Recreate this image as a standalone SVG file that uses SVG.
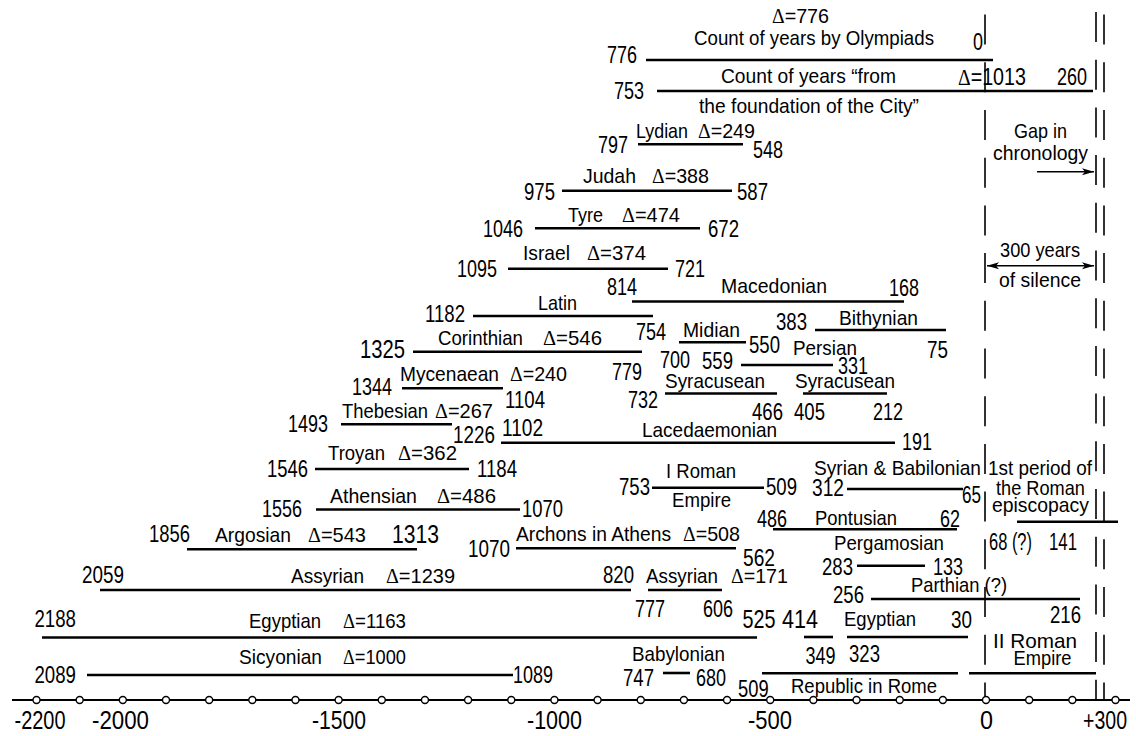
<svg xmlns="http://www.w3.org/2000/svg" width="1136" height="736" viewBox="0 0 1136 736">
<style>
text{font-family:'Liberation Sans',Arial,sans-serif;fill:#000}
.t{font-size:21px}
.n{font-size:23px}
.b{font-size:25px}
.ax{font-size:25px}
.d{font-family:'Liberation Serif','Times New Roman',serif}
.p{stroke:#000;stroke-width:2.6;fill:none}
.dash{stroke:#000;stroke-width:1.6;stroke-dasharray:30 17.7;fill:none}
.arr{stroke:#000;stroke-width:1.5;fill:none}
.c{fill:#fff;stroke:#000;stroke-width:1.4}
.axl{stroke:#000;stroke-width:2}
</style>
<defs>
<marker id="ah" markerUnits="userSpaceOnUse" markerWidth="14" markerHeight="8" refX="12" refY="4" orient="auto-start-reverse">
<path d="M0,0.5 L12,4 L0,7.5 L3,4 z" fill="#000"/>
</marker>
</defs>

<g id="dashed-lines">
<line class="dash" x1="985" y1="14.6" x2="985" y2="700"/>
<line class="dash" x1="1096" y1="12" x2="1096" y2="700"/>
<line class="dash" x1="1104" y1="14.6" x2="1104" y2="700"/>
</g>

<g id="olympiads">
<text class="t" x="772" y="23" textLength="57" lengthAdjust="spacingAndGlyphs"><tspan class="d">Δ</tspan>=776</text>
<text class="t" x="694" y="45" textLength="240" lengthAdjust="spacingAndGlyphs">Count of years by Olympiads</text>
<text class="n" x="973" y="50" textLength="10" lengthAdjust="spacingAndGlyphs">0</text>
<text class="n" x="607" y="63" textLength="30" lengthAdjust="spacingAndGlyphs">776</text>
<line class="p" x1="646" y1="60" x2="993" y2="60"/>
</g>

<g id="rome-foundation">
<text class="t" x="721" y="83" textLength="175" lengthAdjust="spacingAndGlyphs">Count of years “from</text>
<text class="n" x="958" y="85" textLength="68" lengthAdjust="spacingAndGlyphs"><tspan class="d">Δ</tspan>=1013</text>
<text class="n" x="1057" y="85" textLength="30" lengthAdjust="spacingAndGlyphs">260</text>
<text class="n" x="614" y="99" textLength="30" lengthAdjust="spacingAndGlyphs">753</text>
<line class="p" x1="657" y1="91" x2="1093" y2="91"/>
<text class="t" x="699" y="113" textLength="220" lengthAdjust="spacingAndGlyphs">the foundation of the City”</text>
</g>

<g id="gap-note">
<text class="t" x="1014" y="138" textLength="53" lengthAdjust="spacingAndGlyphs">Gap in</text>
<text class="t" x="993" y="160" textLength="95" lengthAdjust="spacingAndGlyphs">chronology</text>
</g>
<g id="silence-note">
<text class="t" x="1000" y="257" textLength="80" lengthAdjust="spacingAndGlyphs">300 years</text>
<text class="t" x="999" y="287" textLength="82" lengthAdjust="spacingAndGlyphs">of silence</text>
</g>

<g id="lydian">
<text class="t" x="636" y="138" textLength="52" lengthAdjust="spacingAndGlyphs">Lydian</text>
<text class="t" x="698" y="138" textLength="57" lengthAdjust="spacingAndGlyphs"><tspan class="d">Δ</tspan>=249</text>
<text class="n" x="598" y="153" textLength="30" lengthAdjust="spacingAndGlyphs">797</text>
<line class="p" x1="638" y1="144.3" x2="743" y2="144.3"/>
<text class="n" x="753" y="158" textLength="30" lengthAdjust="spacingAndGlyphs">548</text>
</g>

<g id="judah">
<text class="t" x="583" y="183" textLength="53" lengthAdjust="spacingAndGlyphs">Judah</text>
<text class="t" x="652" y="183" textLength="57" lengthAdjust="spacingAndGlyphs"><tspan class="d">Δ</tspan>=388</text>
<text class="n" x="524" y="200" textLength="31" lengthAdjust="spacingAndGlyphs">975</text>
<line class="p" x1="562" y1="190.7" x2="732" y2="190.7"/>
<text class="n" x="737" y="200" textLength="31" lengthAdjust="spacingAndGlyphs">587</text>
</g>

<g id="tyre">
<text class="t" x="568" y="222" textLength="35" lengthAdjust="spacingAndGlyphs">Tyre</text>
<text class="t" x="622" y="222" textLength="58" lengthAdjust="spacingAndGlyphs"><tspan class="d">Δ</tspan>=474</text>
<text class="n" x="483" y="237" textLength="40" lengthAdjust="spacingAndGlyphs">1046</text>
<line class="p" x1="535" y1="228.3" x2="700" y2="228.3"/>
<text class="n" x="708" y="237" textLength="31" lengthAdjust="spacingAndGlyphs">672</text>
</g>

<g id="israel">
<text class="t" x="523" y="260" textLength="47" lengthAdjust="spacingAndGlyphs">Israel</text>
<text class="t" x="587" y="260" textLength="59" lengthAdjust="spacingAndGlyphs"><tspan class="d">Δ</tspan>=374</text>
<text class="n" x="457" y="277" textLength="40" lengthAdjust="spacingAndGlyphs">1095</text>
<line class="p" x1="508" y1="268.7" x2="668" y2="268.7"/>
<text class="n" x="675" y="277" textLength="30" lengthAdjust="spacingAndGlyphs">721</text>
</g>

<g id="macedonian">
<text class="n" x="607" y="295" textLength="30" lengthAdjust="spacingAndGlyphs">814</text>
<text class="t" x="721" y="293" textLength="106" lengthAdjust="spacingAndGlyphs">Macedonian</text>
<text class="n" x="889" y="296" textLength="30" lengthAdjust="spacingAndGlyphs">168</text>
<line class="p" x1="632" y1="301.5" x2="904" y2="301.5"/>
</g>

<g id="latin">
<text class="t" x="538" y="310" textLength="39" lengthAdjust="spacingAndGlyphs">Latin</text>
<text class="n" x="425" y="322" textLength="40" lengthAdjust="spacingAndGlyphs">1182</text>
<line class="p" x1="473" y1="316" x2="653" y2="316"/>
<text class="n" x="636" y="340" textLength="30" lengthAdjust="spacingAndGlyphs">754</text>
</g>

<g id="bithynian">
<text class="n" x="776" y="330" textLength="31" lengthAdjust="spacingAndGlyphs">383</text>
<text class="t" x="839" y="325" textLength="79" lengthAdjust="spacingAndGlyphs">Bithynian</text>
<line class="p" x1="815" y1="330" x2="946" y2="330"/>
<text class="n" x="927" y="358" textLength="21" lengthAdjust="spacingAndGlyphs">75</text>
</g>

<g id="corinthian">
<text class="t" x="438" y="345" textLength="85" lengthAdjust="spacingAndGlyphs">Corinthian</text>
<text class="t" x="543" y="345" textLength="59" lengthAdjust="spacingAndGlyphs"><tspan class="d">Δ</tspan>=546</text>
<text class="b" x="360" y="358" textLength="45" lengthAdjust="spacingAndGlyphs">1325</text>
<line class="p" x1="413" y1="351.7" x2="642" y2="351.7"/>
<text class="n" x="612" y="380" textLength="30" lengthAdjust="spacingAndGlyphs">779</text>
</g>

<g id="midian">
<text class="t" x="683" y="337" textLength="57" lengthAdjust="spacingAndGlyphs">Midian</text>
<line class="p" x1="679" y1="342.3" x2="746" y2="342.3"/>
<text class="n" x="749" y="353" textLength="31" lengthAdjust="spacingAndGlyphs">550</text>
<text class="n" x="660" y="368" textLength="30" lengthAdjust="spacingAndGlyphs">700</text>
</g>

<g id="persian">
<text class="n" x="702" y="369" textLength="31" lengthAdjust="spacingAndGlyphs">559</text>
<text class="t" x="793" y="355" textLength="64" lengthAdjust="spacingAndGlyphs">Persian</text>
<line class="p" x1="741" y1="365" x2="833" y2="365"/>
<text class="n" x="838" y="374" textLength="30" lengthAdjust="spacingAndGlyphs">331</text>
</g>

<g id="mycenaean">
<text class="t" x="400" y="381" textLength="99" lengthAdjust="spacingAndGlyphs">Mycenaean</text>
<text class="t" x="510" y="381" textLength="57" lengthAdjust="spacingAndGlyphs"><tspan class="d">Δ</tspan>=240</text>
<text class="n" x="352" y="395" textLength="40" lengthAdjust="spacingAndGlyphs">1344</text>
<line class="p" x1="402" y1="388.3" x2="503" y2="388.3"/>
<text class="n" x="505" y="408" textLength="40" lengthAdjust="spacingAndGlyphs">1104</text>
</g>

<g id="syracusean-1">
<text class="t" x="665" y="388" textLength="100" lengthAdjust="spacingAndGlyphs">Syracusean</text>
<text class="n" x="628" y="408" textLength="30" lengthAdjust="spacingAndGlyphs">732</text>
<line class="p" x1="665" y1="393.5" x2="777" y2="393.5"/>
<text class="n" x="752" y="420" textLength="31" lengthAdjust="spacingAndGlyphs">466</text>
</g>

<g id="syracusean-2">
<text class="t" x="795" y="388" textLength="100" lengthAdjust="spacingAndGlyphs">Syracusean</text>
<line class="p" x1="803" y1="393.5" x2="887" y2="393.5"/>
<text class="n" x="794" y="420" textLength="31" lengthAdjust="spacingAndGlyphs">405</text>
<text class="n" x="873" y="420" textLength="30" lengthAdjust="spacingAndGlyphs">212</text>
</g>

<g id="thebesian">
<text class="t" x="342" y="418" textLength="86" lengthAdjust="spacingAndGlyphs">Thebesian</text>
<text class="t" x="435" y="418" textLength="58" lengthAdjust="spacingAndGlyphs"><tspan class="d">Δ</tspan>=267</text>
<text class="n" x="288" y="432" textLength="40" lengthAdjust="spacingAndGlyphs">1493</text>
<line class="p" x1="341" y1="424.3" x2="452" y2="424.3"/>
<text class="n" x="453" y="443" textLength="42" lengthAdjust="spacingAndGlyphs">1226</text>
</g>

<g id="lacedaemonian">
<text class="n" x="502" y="436" textLength="41" lengthAdjust="spacingAndGlyphs">1102</text>
<text class="t" x="642" y="437" textLength="135" lengthAdjust="spacingAndGlyphs">Lacedaemonian</text>
<line class="p" x1="501" y1="442.7" x2="895" y2="442.7"/>
<text class="n" x="902" y="450" textLength="30" lengthAdjust="spacingAndGlyphs">191</text>
</g>

<g id="troyan">
<text class="t" x="328" y="460" textLength="57" lengthAdjust="spacingAndGlyphs">Troyan</text>
<text class="t" x="398" y="460" textLength="59" lengthAdjust="spacingAndGlyphs"><tspan class="d">Δ</tspan>=362</text>
<text class="n" x="267" y="477" textLength="41" lengthAdjust="spacingAndGlyphs">1546</text>
<line class="p" x1="315" y1="469" x2="469" y2="469"/>
<text class="n" x="477" y="477" textLength="40" lengthAdjust="spacingAndGlyphs">1184</text>
</g>

<g id="roman-empire-1">
<text class="t" x="666" y="478" textLength="70" lengthAdjust="spacingAndGlyphs">I Roman</text>
<text class="n" x="619" y="495" textLength="31" lengthAdjust="spacingAndGlyphs">753</text>
<line class="p" x1="652" y1="487.7" x2="764" y2="487.7"/>
<text class="n" x="766" y="495" textLength="31" lengthAdjust="spacingAndGlyphs">509</text>
<text class="t" x="672" y="507" textLength="59" lengthAdjust="spacingAndGlyphs">Empire</text>
</g>

<g id="syrian-babilonian">
<text class="t" x="814" y="475" textLength="167" lengthAdjust="spacingAndGlyphs">Syrian &amp; Babilonian</text>
<text class="n" x="812" y="496" textLength="32" lengthAdjust="spacingAndGlyphs">312</text>
<line class="p" x1="847" y1="489" x2="963" y2="489"/>
<text class="n" x="962" y="503" textLength="19" lengthAdjust="spacingAndGlyphs">65</text>
</g>

<g id="episcopacy">
<text class="t" x="988" y="475" textLength="104" lengthAdjust="spacingAndGlyphs">1st period of</text>
<text class="t" x="996" y="495" textLength="89" lengthAdjust="spacingAndGlyphs">the Roman</text>
<text class="t" x="992" y="512" textLength="97" lengthAdjust="spacingAndGlyphs">episcopacy</text>
<line class="p" x1="1017" y1="521.7" x2="1118" y2="521.7"/>
<text class="n" x="989" y="550" textLength="43" lengthAdjust="spacingAndGlyphs">68 (?)</text>
<text class="n" x="1049" y="550" textLength="28" lengthAdjust="spacingAndGlyphs">141</text>
</g>

<g id="athensian">
<text class="t" x="330" y="503" textLength="87" lengthAdjust="spacingAndGlyphs">Athensian</text>
<text class="t" x="437" y="503" textLength="59" lengthAdjust="spacingAndGlyphs"><tspan class="d">Δ</tspan>=486</text>
<text class="n" x="262" y="517" textLength="40" lengthAdjust="spacingAndGlyphs">1556</text>
<line class="p" x1="316" y1="509.5" x2="520" y2="509.5"/>
<text class="n" x="522" y="517" textLength="41" lengthAdjust="spacingAndGlyphs">1070</text>
</g>

<g id="pontusian">
<text class="n" x="757" y="527" textLength="30" lengthAdjust="spacingAndGlyphs">486</text>
<text class="t" x="815" y="525" textLength="82" lengthAdjust="spacingAndGlyphs">Pontusian</text>
<text class="n" x="940" y="527" textLength="20" lengthAdjust="spacingAndGlyphs">62</text>
<line class="p" x1="773" y1="529.3" x2="957" y2="529.3"/>
</g>

<g id="argosian">
<text class="n" x="149" y="542" textLength="41" lengthAdjust="spacingAndGlyphs">1856</text>
<text class="t" x="215" y="542" textLength="76" lengthAdjust="spacingAndGlyphs">Argosian</text>
<text class="t" x="308" y="542" textLength="58" lengthAdjust="spacingAndGlyphs"><tspan class="d">Δ</tspan>=543</text>
<text class="b" x="392" y="543" textLength="47" lengthAdjust="spacingAndGlyphs">1313</text>
<line class="p" x1="187" y1="549.3" x2="417" y2="549.3"/>
</g>

<g id="archons">
<text class="n" x="468" y="557" textLength="42" lengthAdjust="spacingAndGlyphs">1070</text>
<text class="t" x="516" y="541" textLength="155" lengthAdjust="spacingAndGlyphs">Archons in Athens</text>
<text class="t" x="683" y="541" textLength="57" lengthAdjust="spacingAndGlyphs"><tspan class="d">Δ</tspan>=508</text>
<line class="p" x1="516" y1="548.3" x2="736" y2="548.3"/>
<text class="n" x="743" y="566" textLength="32" lengthAdjust="spacingAndGlyphs">562</text>
</g>

<g id="pergamosian">
<text class="t" x="834" y="550" textLength="110" lengthAdjust="spacingAndGlyphs">Pergamosian</text>
<text class="n" x="822" y="575" textLength="31" lengthAdjust="spacingAndGlyphs">283</text>
<line class="p" x1="857" y1="565.7" x2="925" y2="565.7"/>
<text class="n" x="933" y="575" textLength="30" lengthAdjust="spacingAndGlyphs">133</text>
</g>

<g id="assyrian-1">
<text class="n" x="82" y="583" textLength="42" lengthAdjust="spacingAndGlyphs">2059</text>
<text class="t" x="291" y="583" textLength="73" lengthAdjust="spacingAndGlyphs">Assyrian</text>
<text class="t" x="386" y="583" textLength="69" lengthAdjust="spacingAndGlyphs"><tspan class="d">Δ</tspan>=1239</text>
<line class="p" x1="100" y1="590" x2="631" y2="590"/>
<text class="n" x="603" y="583" textLength="31" lengthAdjust="spacingAndGlyphs">820</text>
</g>

<g id="assyrian-2">
<text class="t" x="646" y="583" textLength="72" lengthAdjust="spacingAndGlyphs">Assyrian</text>
<text class="t" x="731" y="583" textLength="57" lengthAdjust="spacingAndGlyphs"><tspan class="d">Δ</tspan>=171</text>
<line class="p" x1="648" y1="590" x2="722" y2="590"/>
<text class="n" x="635" y="617" textLength="30" lengthAdjust="spacingAndGlyphs">777</text>
<text class="n" x="703" y="617" textLength="30" lengthAdjust="spacingAndGlyphs">606</text>
</g>

<g id="parthian">
<text class="t" x="911" y="592" textLength="96" lengthAdjust="spacingAndGlyphs">Parthian (?)</text>
<text class="n" x="833" y="603" textLength="31" lengthAdjust="spacingAndGlyphs">256</text>
<line class="p" x1="871" y1="599" x2="1080" y2="599"/>
<text class="n" x="1050" y="623" textLength="31" lengthAdjust="spacingAndGlyphs">216</text>
</g>

<g id="egyptian-1">
<text class="n" x="34.5" y="627" textLength="41.5" lengthAdjust="spacingAndGlyphs">2188</text>
<text class="t" x="249" y="628" textLength="72" lengthAdjust="spacingAndGlyphs">Egyptian</text>
<text class="t" x="343" y="628" textLength="63" lengthAdjust="spacingAndGlyphs"><tspan class="d">Δ</tspan>=1163</text>
<line class="p" x1="42" y1="637.5" x2="757" y2="637.5"/>
<text class="b" x="742.5" y="628" textLength="33" lengthAdjust="spacingAndGlyphs">525</text>
</g>

<g id="egyptian-2">
<text class="b" x="782" y="628" textLength="36" lengthAdjust="spacingAndGlyphs">414</text>
<line class="p" x1="804" y1="637" x2="833" y2="637"/>
<text class="n" x="805.5" y="664" textLength="30" lengthAdjust="spacingAndGlyphs">349</text>
</g>

<g id="egyptian-3">
<text class="t" x="844" y="626" textLength="72" lengthAdjust="spacingAndGlyphs">Egyptian</text>
<text class="n" x="951" y="628" textLength="21" lengthAdjust="spacingAndGlyphs">30</text>
<line class="p" x1="847" y1="637" x2="968" y2="637"/>
<text class="n" x="849" y="662" textLength="31" lengthAdjust="spacingAndGlyphs">323</text>
</g>

<g id="roman-empire-2">
<text class="t" x="993" y="648" textLength="84" lengthAdjust="spacingAndGlyphs">II Roman</text>
<text class="t" x="1013.5" y="665" textLength="58" lengthAdjust="spacingAndGlyphs">Empire</text>
<line class="p" x1="969" y1="673.3" x2="1096" y2="673.3"/>
</g>

<g id="sicyonian">
<text class="t" x="239" y="664" textLength="83" lengthAdjust="spacingAndGlyphs">Sicyonian</text>
<text class="t" x="343" y="664" textLength="63" lengthAdjust="spacingAndGlyphs"><tspan class="d">Δ</tspan>=1000</text>
<text class="n" x="34.5" y="683" textLength="41.5" lengthAdjust="spacingAndGlyphs">2089</text>
<line class="p" x1="87" y1="675" x2="513" y2="675"/>
<text class="n" x="513" y="683" textLength="40" lengthAdjust="spacingAndGlyphs">1089</text>
</g>

<g id="babylonian">
<text class="t" x="632" y="661" textLength="93" lengthAdjust="spacingAndGlyphs">Babylonian</text>
<text class="n" x="623" y="686" textLength="31" lengthAdjust="spacingAndGlyphs">747</text>
<line class="p" x1="663" y1="673" x2="690" y2="673"/>
<text class="n" x="696" y="686" textLength="30" lengthAdjust="spacingAndGlyphs">680</text>
</g>

<g id="republic-rome">
<text class="n" x="738" y="697" textLength="30.6" lengthAdjust="spacingAndGlyphs">509</text>
<text class="t" x="791" y="693" textLength="146" lengthAdjust="spacingAndGlyphs">Republic in Rome</text>
<line class="p" x1="762" y1="673.3" x2="958" y2="673.3"/>
</g>

<g id="connectors">
<line class="arr" x1="1037" y1="171.7" x2="1094" y2="171.7" marker-end="url(#ah)"/>
<line class="arr" x1="987" y1="265.7" x2="1094" y2="265.7" marker-start="url(#ah)" marker-end="url(#ah)"/>
</g>

<g id="axis">
<line class="axl" x1="12" y1="700" x2="1130" y2="700"/>
<circle class="c" cx="36.5" cy="700" r="3.5"/>
<circle class="c" cx="79.66" cy="700" r="3.5"/>
<circle class="c" cx="122.82" cy="700" r="3.5"/>
<circle class="c" cx="165.98" cy="700" r="3.5"/>
<circle class="c" cx="209.14" cy="700" r="3.5"/>
<circle class="c" cx="252.3" cy="700" r="3.5"/>
<circle class="c" cx="295.46" cy="700" r="3.5"/>
<circle class="c" cx="338.62" cy="700" r="3.5"/>
<circle class="c" cx="381.78" cy="700" r="3.5"/>
<circle class="c" cx="424.94" cy="700" r="3.5"/>
<circle class="c" cx="468.1" cy="700" r="3.5"/>
<circle class="c" cx="511.26" cy="700" r="3.5"/>
<circle class="c" cx="554.42" cy="700" r="3.5"/>
<circle class="c" cx="597.58" cy="700" r="3.5"/>
<circle class="c" cx="640.74" cy="700" r="3.5"/>
<circle class="c" cx="683.9" cy="700" r="3.5"/>
<circle class="c" cx="727.06" cy="700" r="3.5"/>
<circle class="c" cx="770.22" cy="700" r="3.5"/>
<circle class="c" cx="813.38" cy="700" r="3.5"/>
<circle class="c" cx="856.54" cy="700" r="3.5"/>
<circle class="c" cx="899.7" cy="700" r="3.5"/>
<circle class="c" cx="942.86" cy="700" r="3.5"/>
<circle class="c" cx="986" cy="700" r="3.5"/>
<circle class="c" cx="1029.18" cy="700" r="3.5"/>
<circle class="c" cx="1072.34" cy="700" r="3.5"/>
<circle class="c" cx="1115.5" cy="700" r="3.5"/>
<text class="ax" x="14.5" y="729" textLength="51" lengthAdjust="spacingAndGlyphs">-2200</text>
<text class="ax" x="92" y="729" textLength="57" lengthAdjust="spacingAndGlyphs">-2000</text>
<text class="ax" x="312" y="729" textLength="54" lengthAdjust="spacingAndGlyphs">-1500</text>
<text class="ax" x="527" y="729" textLength="55" lengthAdjust="spacingAndGlyphs">-1000</text>
<text class="ax" x="748" y="729" textLength="44" lengthAdjust="spacingAndGlyphs">-500</text>
<text class="ax" x="980" y="729" textLength="13" lengthAdjust="spacingAndGlyphs">0</text>
<text class="ax" x="1083" y="729" textLength="44" lengthAdjust="spacingAndGlyphs">+300</text>
</g>
</svg>
